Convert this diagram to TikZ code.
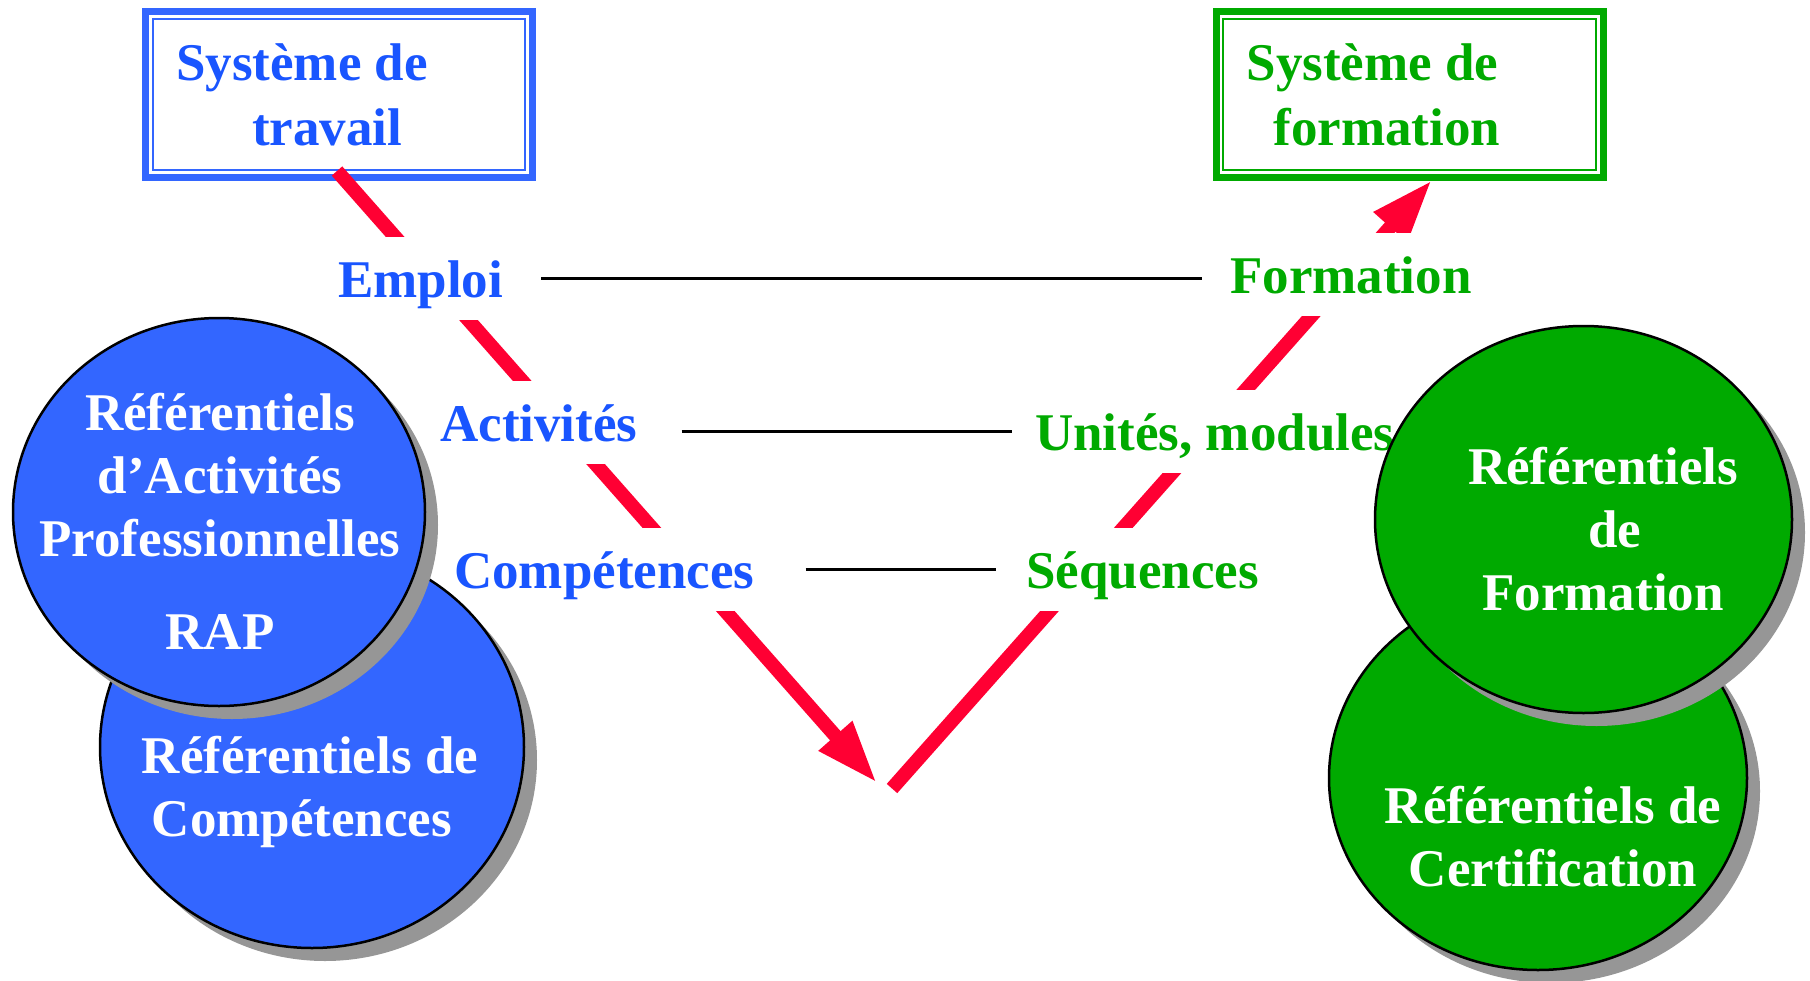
\documentclass[tikz,border=0pt]{standalone}
\usepackage{fontspec}
\setmainfont{Liberation Serif}
\usetikzlibrary{arrows.meta,shapes.geometric,shadows}
\definecolor{tblue}{HTML}{1955FF}
\definecolor{fblue}{HTML}{3366FF}
\definecolor{fgreen}{HTML}{00AA00}
\definecolor{vred}{HTML}{FF0033}
\definecolor{shadowgray}{HTML}{969696}
\begin{document}
\begin{tikzpicture}[x=1pt,y=-1pt,
  sysbox/.style={draw=#1, line width=7pt, minimum width=387pt, minimum height=166pt,
    inner sep=0pt, align=left, font=\bfseries\fontsize{53}{65}\selectfont,
    path picture={\draw[#1, line width=2pt]
      ([shift={(7.3pt,-7.3pt)}]path picture bounding box.north west) rectangle
      ([shift={(-7.3pt,7.3pt)}]path picture bounding box.south east);}},
  redline/.style={draw=vred, line width=14pt, -{Triangle[length=63pt,width=41pt]}},
  lbl/.style={font=\bfseries\fontsize{53}{63}\selectfont, fill=white, inner sep=0pt,
    text height=60pt, text depth=23pt, anchor=base west},
  blk/.style={draw=black, line width=3pt},
  oval/.style={ellipse, draw=black, line width=2.5pt, fill=#1, inner sep=0pt,
    drop shadow={shadow xshift=13pt, shadow yshift=-13pt, fill=shadowgray, opacity=1}},
  ovaltext/.style={font=\bfseries\fontsize{53}{63}\selectfont, text=white, align=center, inner sep=0pt},
]
\useasboundingbox (0,0) rectangle (1810,980);
\fill[white] (0,0) rectangle (1810,980);

% system boxes
\node[sysbox=fblue, text=tblue] (travail) at (339,94.5) {Système de\hspace*{74pt}\\\hspace*{76pt}travail};
\node[sysbox=fgreen, text=fgreen] (formsys) at (1409.5,94.5) {Système de\hspace*{74pt}\\\hspace*{27pt}formation};

% red V arrows
\coordinate (ltop) at (337,171);
\coordinate (ltip) at (877,783);
\coordinate (rbot) at (892,788.5);
\coordinate (rtip) at (1432,180);
\draw[redline] (ltop) -- (ltip);
\draw[redline] (rbot) -- (rtip);

% labels
\node[lbl, text=tblue] (emploi) at (338,297) {Emploi};
\node[lbl, text=tblue] (activites) at (440,441) {Activités};
\node[lbl, text=tblue] (competences) at (454,588) {Compétences};
\node[lbl, text=fgreen] (formation) at (1230,293) {Formation};
\node[lbl, text=fgreen] (unites) at (1035,450) {Unités, modules};
\node[lbl, text=fgreen] (sequences) at (1026,588) {Séquences};

% correspondence lines
\draw[blk, shorten <=38pt, shorten >=28pt] (emploi.east) -- (emploi.east -| formation.west);
\draw[blk, shorten <=44pt, shorten >=23pt] (activites.east |- unites.west) -- (unites.west);
\draw[blk, shorten <=51pt, shorten >=30pt] (competences.east) -- (competences.east -| sequences.west);

% left ellipses
\node[oval=fblue, minimum width=424pt, minimum height=402pt] (refcomp) at (312,747) {};
\node[ovaltext] (refcomptxt) at (310,792) {Référentiels de\\Compétences\hspace*{16pt}};
\node[oval=fblue, minimum width=412pt, minimum height=388pt] (rap) at (219,512) {};
\node[ovaltext] (raptxt) at (220,521) {Référentiels\\d’Activités\\Professionnelles\\[30pt]RAP};

% right ellipses
\node[oval=fgreen, minimum width=418pt, minimum height=384pt] (refcert) at (1538,778) {};
\node[ovaltext] (refcerttxt) at (1553,836.5) {Référentiels de\\Certification};
\node[oval=fgreen, minimum width=417pt, minimum height=387pt] (refform) at (1583.5,519.5) {};
\node[ovaltext] (refformtxt) at (1603,529.5) {Référentiels\\\hspace*{24pt}de\\Formation};
\end{tikzpicture}
\end{document}
